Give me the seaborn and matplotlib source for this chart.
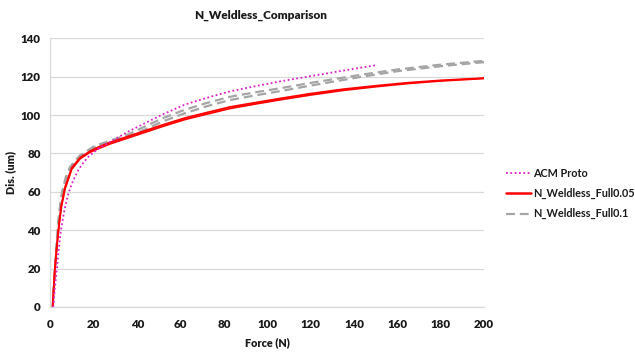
import matplotlib
matplotlib.use("Agg")
import matplotlib.pyplot as plt
import seaborn as sns
import pandas as pd
from matplotlib.lines import Line2D

# ---- data ----
acm_x = [1.3, 2, 2.9, 3.8, 4.8, 6.5, 8.2, 10.5, 12.8, 15, 17.5, 22, 29.8, 36, 44, 52, 62, 72, 83, 95, 106, 120, 135, 150]
acm_y = [0, 10, 19.3, 30, 40, 51, 59, 66, 71.3, 75, 78.3, 82.5, 87.5, 91.5, 96, 100.5, 105.5, 109, 112.4, 115.2, 117.6, 120.3, 123.2, 126]

f005_x = [1, 2, 3, 4, 5, 6.7, 9.8, 13.6, 18, 22, 28, 36, 44, 52, 62, 72, 83, 95, 106, 120, 135, 150, 165, 180, 200]
f005a_y = [0, 20, 33, 44, 53, 62.5, 72.5, 77.8, 81, 83.3, 86, 89, 92, 95, 98.5, 101.3, 104.3, 106.6, 108.7, 111.2, 113.5, 115.3, 116.9, 118.1, 119.3]
f005b_y = [0, 19, 32, 43, 52, 61.5, 71.8, 77.2, 80.5, 82.5, 85.2, 88.2, 91.2, 94.2, 97.7, 100.5, 103.5, 105.9, 108, 110.5, 112.9, 114.8, 116.5, 117.8, 119.1]

f01_x = [1, 2, 3, 4, 5.2, 7, 9, 13.6, 20.5, 28, 36, 44, 52, 62, 72, 83, 95, 106, 120, 143, 160, 180, 200]
f01a_y = [0, 18, 36, 49, 59, 67.5, 73, 79, 84, 86.8, 90, 94.3, 98.5, 102.8, 106.3, 109.6, 112, 114, 116.8, 121, 123.8, 126.3, 128.3]
f01b_y = [0, 17, 34, 47.5, 58, 66.5, 72.3, 78.3, 83.2, 85.7, 88.7, 92.7, 96.8, 101, 104.6, 107.9, 110.4, 112.5, 115.4, 119.9, 122.9, 125.5, 127.6]

labels = ["ACM Proto", "N_Weldless_Full0.05", "N_Weldless_Full0.1"]
x_ticks = list(range(0, 201, 20))
y_ticks = list(range(0, 141, 20))

sns.set_theme(style="white")
plt.rcParams['font.family'] = ['Lato', 'DejaVu Sans']

fig = plt.figure(figsize=(6.35, 3.52), dpi=100)
ax = fig.add_axes([0.0795, 0.128, 0.683, 0.763])

c_acm = "#E020C8"
c_red = "#FF0000"
c_gray = "#A5A5A5"
dash = (0, (4, 2.2))
dots = (0, (1, 1.4))

sns.lineplot(x=f01_x, y=f01a_y, ax=ax, color=c_gray, lw=1.6, sort=False, estimator=None, linestyle=dash)
sns.lineplot(x=f01_x, y=f01b_y, ax=ax, color=c_gray, lw=1.6, sort=False, estimator=None, linestyle=dash)
sns.lineplot(x=f005_x, y=f005a_y, ax=ax, color=c_red, lw=1.3, sort=False, estimator=None)
sns.lineplot(x=f005_x, y=f005b_y, ax=ax, color=c_red, lw=1.3, sort=False, estimator=None)
sns.lineplot(x=acm_x, y=acm_y, ax=ax, color=c_acm, lw=1.3, sort=False, estimator=None, linestyle=dots)

ax.set_xlim(0, 200)
ax.set_ylim(0, 140)
ax.set_xticks(x_ticks)
ax.set_yticks(y_ticks)
ax.tick_params(axis='x', length=0, labelsize=8.3, pad=9)
ax.tick_params(axis='y', length=0, labelsize=8.3, pad=7)
for lab in ax.get_xticklabels() + ax.get_yticklabels():
    lab.set_fontweight('heavy')
    lab.set_color('#1a1a1a')

ax.grid(axis='y', color='#D9D9D9', lw=0.9)
ax.grid(axis='x', visible=False)
for s in ['top', 'right']:
    ax.spines[s].set_visible(False)
for s in ['left', 'bottom']:
    ax.spines[s].set_color('#D9D9D9')
    ax.spines[s].set_linewidth(0.9)

ax.set_xlabel("Force (N)", fontsize=7.8, fontweight='heavy', color='#1a1a1a', labelpad=5)
ax.set_ylabel("Dis. (um)", fontsize=7.8, fontweight='heavy', color='#1a1a1a', labelpad=3)
fig.text(0.411, 0.957, "N_Weldless_Comparison", ha='center', va='center', fontsize=8.5, fontweight='heavy', color='#1a1a1a')

handles = [
    Line2D([], [], color=c_acm, lw=1.3, linestyle=dots),
    Line2D([], [], color=c_red, lw=1.8),
    Line2D([], [], color=c_gray, lw=1.6, linestyle=dash),
]
leg = fig.legend(handles, labels, loc='center left', bbox_to_anchor=(0.782, 0.45), frameon=False,
                 prop={'size': 7.8, 'weight': 'bold'}, handlelength=2.3, handletextpad=0.2, labelspacing=0.85)
for t in leg.get_texts():
    t.set_color('#1a1a1a')

fig.savefig("out.png", dpi=100)
